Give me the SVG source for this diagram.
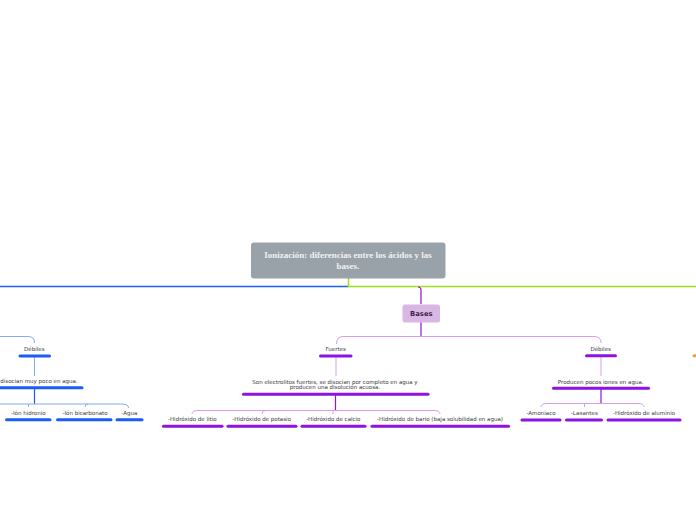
<svg xmlns="http://www.w3.org/2000/svg" width="696" height="520" viewBox="0 0 696 520">
<style>
.t{font-family:"DejaVu Sans",Verdana,sans-serif;font-size:5.5px;fill:#3a3a3a;text-anchor:middle}
.bb{stroke:#1b5cf2;stroke-width:3;stroke-linecap:round;fill:none}
.bp{stroke:#8e12e4;stroke-width:3;stroke-linecap:round;fill:none}
.lb{stroke:#86a8f5;stroke-width:1;fill:none}
.db{stroke:#1b5cf2;stroke-width:1.2;fill:none}
.lp{stroke:#d59cf2;stroke-width:1;fill:none}
.dp{stroke:#8e12e4;stroke-width:1.2;fill:none}
.rt{font-family:"Liberation Serif","Times New Roman",serif;font-size:9px;font-weight:bold;fill:#f2f2f2;text-anchor:middle}
</style>
<rect width="696" height="520" fill="#ffffff"/>
<g id="connectors">
<path d="M0 286.5 H348.5" stroke="#1d5ef5" stroke-width="1.3" fill="none"/>
<path d="M348.5 278 V286.5 H696" stroke="#a0e01a" stroke-width="1.5" fill="none"/>
<path d="M418 287 Q421 287 421 290 V304" class="dp"/>
<path d="M421 322 V336" class="dp"/>
<path d="M336.5 344 Q336.5 336.5 343 336.5 H594 Q601 336.5 601 343" class="lp"/>
<path d="M336 357 V376" class="lp"/>
<path d="M335.5 395 V410.5" class="dp"/>
<path d="M192 414 Q192 410.5 198 410.5 H434 Q440 410.5 440 414" class="lp"/>
<path d="M262 414 Q262 410.5 266 410.5 M333 414 V410.5" class="lp"/>
<path d="M601 357 V376" class="lp"/>
<path d="M601 389 V403.5" class="dp"/>
<path d="M541 407 Q541 403.5 547 403.5 H638 Q644 403.5 644 407" class="lp"/>
<path d="M584.5 407 V403.5" class="lp"/>
<path d="M-2 336.5 H28 Q34.5 336.5 34.5 343" class="lb"/>
<path d="M34.5 357 V376" class="lb"/>
<path d="M34.5 389 V404" class="db"/>
<path d="M-2 404 H122 Q128.5 404 128.5 408" class="lb"/>
<path d="M28.5 407 V404 M85 407 Q85 404 88 404" class="lb"/>
</g>
<g id="root">
<rect x="251" y="242.5" width="194.5" height="36" rx="3" fill="#99a1a9"/>
<text class="rt" x="348" y="258">Ionización: diferencias entre los ácidos y las</text>
<text class="rt" x="348" y="268.5">bases.</text>
</g>
<g id="bases">
<rect x="402.5" y="304.5" width="37.5" height="18" rx="2.5" fill="#d9b6e3"/>
<text x="421.3" y="316" font-family="'DejaVu Sans',Verdana,sans-serif" font-size="6.8" font-weight="bold" fill="#3d1f4a" text-anchor="middle">Bases</text>
</g>
<g id="fuertes">
<text class="t" x="335.7" y="351">Fuertes</text>
<path d="M320.5 356 H351" class="bp"/>
</g>
<g id="fuertes-desc">
<text class="t" x="335" y="383.5">Son electrolitos fuertes, se disocian por completo en agua y</text>
<text class="t" x="335" y="389.2">producen una disolución acuosa.</text>
<path d="M243.5 394.3 H428" class="bp"/>
</g>
<g id="litio"><text class="t" x="192.3" y="421">-Hidróxido de litio</text><path d="M163.5 426.3 H222" class="bp"/></g>
<g id="potasio"><text class="t" x="261.7" y="421">-Hidróxido de potasio</text><path d="M228 426.3 H296" class="bp"/></g>
<g id="calcio"><text class="t" x="333.3" y="421">-Hidróxido de calcio</text><path d="M302 426.3 H365" class="bp"/></g>
<g id="bario"><text class="t" x="440" y="421">-Hidróxido de bario (baja solubilidad en agua)</text><path d="M372 426.3 H508.5" class="bp"/></g>
<g id="debiles-bases">
<text class="t" x="600.7" y="351">Débiles</text>
<path d="M586.5 355.7 H615.5" class="bp"/>
</g>
<g id="debiles-bases-desc">
<text class="t" x="600.7" y="383.5">Producen pocos iones en agua.</text>
<path d="M553.5 388.3 H648.5" class="bp"/>
</g>
<g id="amoniaco"><text class="t" x="541" y="414.5">-Amoniaco</text><path d="M522 420 H560" class="bp"/></g>
<g id="laxantes"><text class="t" x="584.3" y="414.5">-Laxantes</text><path d="M566.5 420 H601.5" class="bp"/></g>
<g id="aluminio"><text class="t" x="644" y="414.5">-Hidróxido de aluminio</text><path d="M608 420 H680" class="bp"/></g>
<g id="orange"><path d="M694 355.7 H697" stroke="#f0a030" stroke-width="3" stroke-linecap="round"/></g>
<g id="debiles-acidos">
<text class="t" x="34.3" y="351">Débiles</text>
<path d="M20 356 H49.5" class="bb"/>
</g>
<g id="debiles-acidos-desc">
<text class="t" x="0.3" y="382.5" style="text-anchor:start">disocian muy poco en agua.</text>
<path d="M-3 387.7 H82" class="bb"/>
</g>
<g id="hidronio"><text class="t" x="28.3" y="414.5">-Ión hidronio</text><path d="M6.5 419.7 H50" class="bb"/></g>
<g id="bicarbonato"><text class="t" x="85" y="414.5">-Ión bicarbonato</text><path d="M57.5 419.7 H111" class="bb"/></g>
<g id="agua"><text class="t" x="129.3" y="414.5">-Agua</text><path d="M117 419.7 H142" class="bb"/></g>
</svg>
